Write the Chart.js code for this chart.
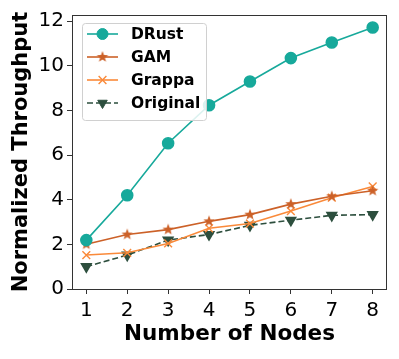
<!DOCTYPE html>
<html>
<head>
<meta charset="utf-8">
<script src="https://cdn.jsdelivr.net/npm/chart.js@4/dist/chart.umd.min.js"></script>
<style>
  html, body { margin: 0; padding: 0; background: #fff; }
  #wrap { width: 399px; height: 359px; }
</style>
</head>
<body>
<div id="wrap"><canvas id="chart" width="399" height="359"></canvas></div>
<script>
// values
const nodes = [1, 2, 3, 4, 5, 6, 7, 8];
const drust = [2.19, 4.2, 6.53, 8.23, 9.29, 10.34, 11.04, 11.71];
const gam = [2.0, 2.44, 2.66, 3.03, 3.33, 3.8, 4.15, 4.4];
const grappa = [1.52, 1.62, 2.04, 2.72, 2.93, 3.49, 4.09, 4.59];
const original = [1.0, 1.52, 2.19, 2.44, 2.85, 3.08, 3.3, 3.33];
const yTicks = [0, 2, 4, 6, 8, 10, 12];

const FONT = '"DejaVu Sans", sans-serif';

// matplotlib style filled star marker
function starMarker(color, r) {
    const c = document.createElement('canvas');
    const s = Math.ceil(r * 2 + 2);
    c.width = s; c.height = s;
    const g = c.getContext('2d');
    g.translate(s / 2, s / 2);
    g.beginPath();
    for (let i = 0; i < 10; i++) {
        const rad = i % 2 === 0 ? r : r * 0.42;
        const a = -Math.PI / 2 + i * Math.PI / 5;
        g.lineTo(rad * Math.cos(a), rad * Math.sin(a));
    }
    g.closePath();
    g.fillStyle = color;
    g.fill();
    return c;
}

const pts = vals => vals.map((v, i) => ({ x: nodes[i], y: v }));

const series = [
    { label: 'DRust', data: pts(drust), borderColor: '#17a99b', backgroundColor: '#17a99b',
      pointStyle: 'circle', pointRadius: 5.5, borderWidth: 1.6 },
    { label: 'GAM', data: pts(gam), borderColor: '#cc6128', backgroundColor: '#cc6128',
      pointStyle: starMarker('#cc6128', 6), pointRadius: 6, borderWidth: 1.6 },
    { label: 'Grappa', data: pts(grappa), borderColor: '#fa8a3a', backgroundColor: '#fa8a3a',
      pointStyle: 'crossRot', pointRadius: 5.5, borderWidth: 1.6, pointBorderWidth: 1.4 },
    { label: 'Original', data: pts(original), borderColor: '#2d4f3e', backgroundColor: '#2d4f3e',
      pointStyle: 'triangle', pointRotation: 180, pointRadius: 5.5, borderWidth: 1.6,
      borderDash: [6, 3] }
];

// frame around the plot area (all four spines)
const framePlugin = {
    id: 'frame',
    afterDatasetsDraw(chart) {
        const { ctx, chartArea: a } = chart;
        ctx.save();
        ctx.strokeStyle = '#333';
        ctx.lineWidth = 1;
        ctx.strokeRect(a.left + 0.5, a.top + 0.5, a.right - a.left - 1, a.bottom - a.top);
        ctx.restore();
    }
};

// legend with line + marker samples, like matplotlib
const legendPlugin = {
    id: 'mplLegend',
    afterDraw(chart) {
        const { ctx } = chart;
        const x0 = 82, y0 = 23, w = 124, h = 97;
        ctx.save();
        ctx.fillStyle = 'rgba(255,255,255,0.85)';
        ctx.strokeStyle = '#d0d0d0';
        ctx.lineWidth = 1;
        ctx.beginPath();
        ctx.roundRect(x0 + 0.5, y0 + 0.5, w, h, 3);
        ctx.fill();
        ctx.stroke();
        chart.data.datasets.forEach((ds, i) => {
            const y = 34 + i * 23;
            ctx.strokeStyle = ds.borderColor;
            ctx.lineWidth = ds.borderWidth;
            ctx.setLineDash(ds.borderDash || []);
            ctx.beginPath();
            ctx.moveTo(87, y);
            ctx.lineTo(118, y);
            ctx.stroke();
            ctx.setLineDash([]);
            ctx.fillStyle = ds.backgroundColor;
            ctx.strokeStyle = ds.borderColor;
            ctx.lineWidth = ds.pointBorderWidth || 1;
            Chart.helpers.drawPoint(ctx, {
                pointStyle: ds.pointStyle, radius: ds.pointRadius,
                rotation: ds.pointRotation || 0, borderWidth: ds.pointBorderWidth || 1
            }, 102.5, y);
            ctx.fillStyle = '#000';
            ctx.font = 'bold 15.5px ' + FONT;
            ctx.textBaseline = 'middle';
            ctx.textAlign = 'left';
            ctx.fillText(ds.label, 131, y + 1);
        });
        ctx.restore();
    }
};

new Chart(document.getElementById('chart'), {
    type: 'line',
    data: { datasets: series },
    plugins: [framePlugin, legendPlugin],
    options: {
        responsive: false,
        animation: false,
        layout: { padding: { top: 14, right: 12, left: 0, bottom: 0 } },
        plugins: { legend: { display: false }, tooltip: { enabled: false } },
        elements: { line: { tension: 0 } },
        scales: {
            x: {
                type: 'linear',
                min: 0.65,
                max: 8.35,
                afterBuildTicks: s => { s.ticks = nodes.map(v => ({ value: v })); },
                afterFit: s => { s.height = 70; },
                border: { display: false },
                grid: { drawOnChartArea: false, tickLength: 5, color: '#333' },
                ticks: { color: '#000', padding: 5, font: { family: FONT, size: 20 } },
                title: { display: true, text: 'Number of Nodes', color: '#000',
                         padding: { bottom: 12 }, font: { family: FONT, size: 21.5, weight: 'bold' } }
            },
            y: {
                min: 0,
                max: 12.27,
                afterBuildTicks: s => { s.ticks = yTicks.map(v => ({ value: v })); },
                afterFit: s => { s.width = 72; },
                border: { display: false },
                grid: { drawOnChartArea: false, tickLength: 5, color: '#333' },
                ticks: { color: '#000', padding: 3, font: { family: FONT, size: 20 } },
                title: { display: true, text: 'Normalized Throughput', color: '#000',
                         padding: { top: 9 }, font: { family: FONT, size: 21, weight: 'bold' } }
            }
        }
    }
});
</script>
</body>
</html>
